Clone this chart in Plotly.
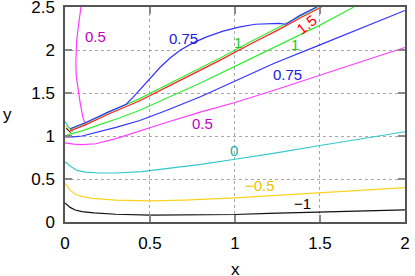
import plotly.graph_objects as go

# ---- contour curves (x, y) ----
neg1_x = [0.0, 0.03, 0.06, 0.1, 0.17, 0.3, 0.5, 0.7, 1.0, 1.2, 1.5, 1.8, 2.0]
neg1_y = [0.22, 0.17, 0.14, 0.12, 0.105, 0.09, 0.08, 0.08, 0.087, 0.1, 0.115, 0.128, 0.14]
neg1_small_x = [0.008, 0.035]
neg1_small_y = [1.09, 1.04]

neg05_x = [0.0, 0.015, 0.03, 0.06, 0.09, 0.16, 0.3, 0.5, 0.7, 1.0, 1.2, 1.5, 1.8, 2.0]
neg05_y = [0.45, 0.41, 0.37, 0.325, 0.30, 0.275, 0.255, 0.245, 0.255, 0.28, 0.305, 0.345, 0.375, 0.40]
neg05_small_x = [0.003, 0.04]
neg05_small_y = [1.12, 1.04]

zero_x = [0.0, 0.03, 0.07, 0.12, 0.2, 0.3, 0.45, 0.6, 0.8, 1.0, 1.235, 1.5, 1.75, 2.0]
zero_y = [0.70, 0.65, 0.60, 0.58, 0.57, 0.57, 0.585, 0.62, 0.67, 0.73, 0.80, 0.89, 0.97, 1.05]
zero_small_x = [0.0, 0.02, 0.047]
zero_small_y = [1.17, 1.11, 1.05]

half_low_x = [0.0, 0.05, 0.1, 0.18, 0.3, 0.44, 0.6, 0.8, 1.0, 1.235, 1.5, 1.75, 2.0]
half_low_y = [0.92, 0.905, 0.9, 0.91, 0.97, 1.06, 1.16, 1.28, 1.39, 1.535, 1.71, 1.87, 2.03]
half_up_x = [0.12, 0.105, 0.088, 0.075, 0.066, 0.064, 0.068, 0.08, 0.094]
half_up_y = [1.13, 1.22, 1.40, 1.55, 1.70, 1.85, 2.10, 2.30, 2.5]

q3_low_x = [0.0, 0.05, 0.1, 0.2, 0.3, 0.44, 0.6, 0.8, 1.0, 1.235, 1.5, 1.75, 2.0]
q3_low_y = [0.99, 0.99, 1.0, 1.05, 1.1, 1.18, 1.3, 1.46, 1.64, 1.85, 2.06, 2.26, 2.46]
q3_up_x = [0.03, 0.12, 0.25, 0.36, 0.40, 0.44, 0.5, 0.56, 0.62, 0.68, 0.75, 0.83, 0.93,
           1.03, 1.12, 1.2, 1.26, 1.30, 1.38, 1.48]
q3_up_y = [1.085, 1.155, 1.275, 1.37, 1.45, 1.54, 1.67, 1.80, 1.91, 2.0, 2.08, 2.15, 2.22,
           2.27, 2.30, 2.31, 2.31, 2.30, 2.40, 2.5]

one_low_x = [0.01, 0.1, 0.2, 0.32, 0.44, 0.6, 0.8, 1.0, 1.265, 1.5, 1.70]
one_low_y = [1.01, 1.06, 1.13, 1.21, 1.30, 1.44, 1.62, 1.81, 2.06, 2.29, 2.5]
one_up_x = [0.03, 0.12, 0.25, 0.44, 0.7, 0.91, 1.1, 1.26, 1.38, 1.49]
one_up_y = [1.08, 1.15, 1.27, 1.435, 1.695, 1.905, 2.105, 2.265, 2.39, 2.5]

onehalf_x = [0.03, 0.12, 0.25, 0.44, 0.7, 0.91, 1.1, 1.26, 1.38, 1.51]
onehalf_y = [1.06, 1.13, 1.25, 1.41, 1.67, 1.88, 2.08, 2.24, 2.37, 2.5]

# ---- contour labels ----
label_text = ["0.5", "0.75", "1", "1.5", "1", "0.75", "0.5", "0", "\u22120.5", "\u22121"]
label_x = [0.18, 0.70, 1.015, 1.42, 1.356, 1.31, 0.81, 0.994, 1.15, 1.40]
label_y = [2.16, 2.13, 2.09, 2.30, 2.06, 1.72, 1.14, 0.826, 0.42, 0.21]
label_color = ["#c000c0", "#2020e0", "#20c820", "#ff0000", "#20c820", "#2020e0",
               "#c000c0", "#20b0b0", "#f0c000", "#000000"]
label_angle = [0, 0, 0, -38, 0, 0, 0, 0, 0, 0]

x_ticks = [0, 0.5, 1, 1.5, 2]
x_ticktext = ["0", "0.5", "1", "1.5", "2"]
y_ticks = [0, 0.5, 1, 1.5, 2, 2.5]
y_ticktext = ["0", "0.5", "1", "1.5", "2", "2.5"]

FONT = "Liberation Sans, Arial, sans-serif"
C_BLACK = "#111111"
C_YEL = "#ffd21f"
C_TEAL = "#33c8c8"
C_MAG = "#ff3cff"
C_BLUE = "#3333ff"
C_GREEN = "#33ee33"
C_RED = "#ff2020"

curves = [
    (neg1_x, neg1_y, C_BLACK), (neg1_small_x, neg1_small_y, C_BLACK),
    (neg05_x, neg05_y, C_YEL), (neg05_small_x, neg05_small_y, C_YEL),
    (zero_x, zero_y, C_TEAL), (zero_small_x, zero_small_y, C_TEAL),
    (half_low_x, half_low_y, C_MAG), (half_up_x, half_up_y, C_MAG),
    (q3_low_x, q3_low_y, C_BLUE),
    (one_low_x, one_low_y, C_GREEN), (one_up_x, one_up_y, C_GREEN),
    (onehalf_x, onehalf_y, C_RED),
    (q3_up_x, q3_up_y, C_BLUE),
]

fig = go.Figure()
for cx, cy, col in curves:
    fig.add_trace(go.Scatter(x=cx, y=cy, mode="lines", line=dict(color=col, width=1.2),
                             showlegend=False, hoverinfo="skip"))

for t, lx, ly, lc, la in zip(label_text, label_x, label_y, label_color, label_angle):
    fig.add_annotation(x=lx, y=ly, text=t, showarrow=False, textangle=la,
                       font=dict(size=15, color=lc, family=FONT))

# axis titles
fig.add_annotation(x=0.5, y=-0.168, xref="paper", yref="paper", yanchor="top",
                   text="x", showarrow=False, font=dict(size=17, color="black", family=FONT))
fig.add_annotation(x=-0.17, y=0.5, xref="paper", yref="paper", xanchor="center",
                   text="y", showarrow=False, font=dict(size=17, color="black", family=FONT))

axis_common = dict(
    showgrid=True, gridcolor="#a8a8a8", griddash="dot", gridwidth=1,
    zeroline=False, showline=True, linecolor="#555555", linewidth=1.5, mirror="ticks",
    ticks="inside", ticklen=7, tickcolor="#888888", tickwidth=1.5, automargin=False,
    ticklabeloverflow="allow",
    tickfont=dict(size=17, color="black", family=FONT),
)

fig.update_layout(
    width=415, height=276,
    margin=dict(l=65, r=10, t=7, b=54, autoexpand=False),
    plot_bgcolor="white", paper_bgcolor="white",
    xaxis=dict(range=[0, 2.0005], tickvals=x_ticks, ticktext=x_ticktext,
               ticklabelstandoff=5, **axis_common),
    yaxis=dict(range=[0, 2.5005], tickvals=y_ticks, ticktext=y_ticktext,
               ticklabelstandoff=5, **axis_common),
    showlegend=False,
)

fig.write_html("out.html", config={"displayModeBar": False},
               post_script="document.body.style.margin='0px';document.body.style.padding='0px';")
